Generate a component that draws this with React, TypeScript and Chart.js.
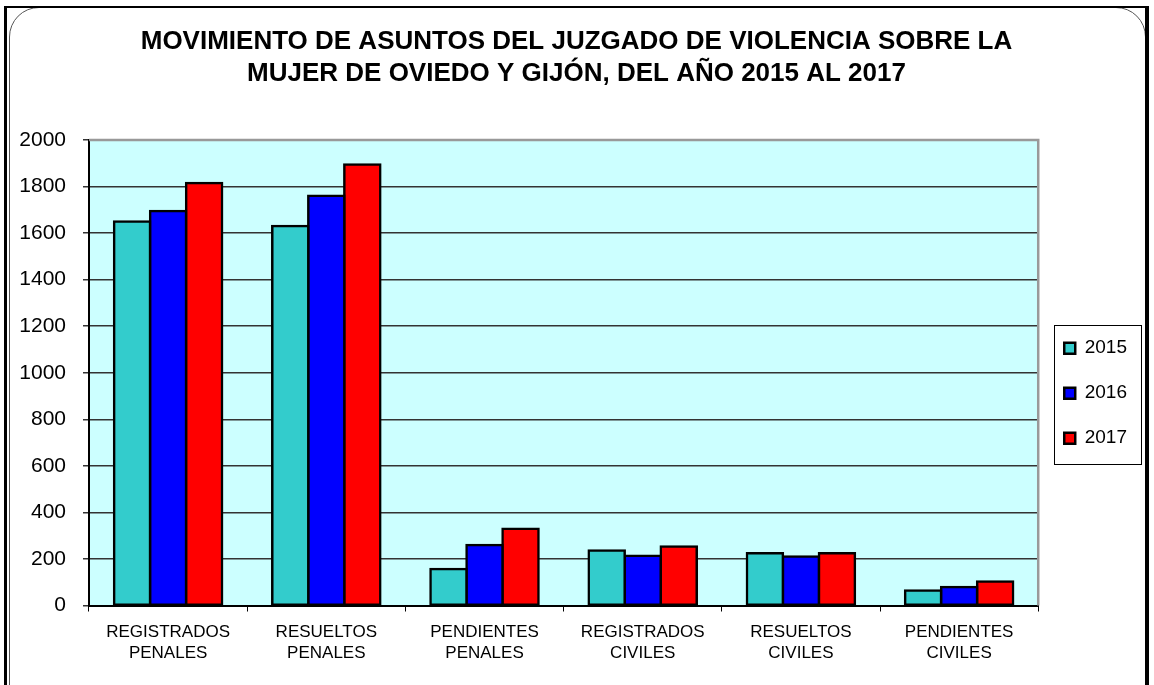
import React, { useEffect, useRef } from 'react';
import { Chart, registerables } from 'chart.js';

Chart.register(...registerables);

const categories: string[][] = [
  ['REGISTRADOS', 'PENALES'],
  ['RESUELTOS', 'PENALES'],
  ['PENDIENTES', 'PENALES'],
  ['REGISTRADOS', 'CIVILES'],
  ['RESUELTOS', 'CIVILES'],
  ['PENDIENTES', 'CIVILES'],
];
const seriesNames = ['2015', '2016', '2017'];
const values2015 = [1650, 1630, 157, 236, 224, 64];
const values2016 = [1695, 1760, 260, 214, 210, 79];
const values2017 = [1815, 1895, 330, 253, 224, 103];
const seriesColors = ['#33CCCC', '#0000FF', '#FF0000'];
const titleLines = [
  'MOVIMIENTO DE ASUNTOS DEL JUZGADO DE VIOLENCIA SOBRE LA',
  'MUJER DE OVIEDO Y GIJÓN, DEL AÑO 2015 AL 2017',
];
const yMin = 0;
const yMax = 2000;
const yStep = 200;

const FONT = '"Liberation Sans", Arial, sans-serif';

const plotBg = {
  id: 'plotBg',
  beforeDraw(chart: any) {
    const { ctx, chartArea: a } = chart;
    ctx.save();
    ctx.fillStyle = '#CCFFFF';
    ctx.fillRect(a.left, a.top, a.right - a.left, a.bottom - a.top);
    ctx.restore();
  },
  beforeDatasetsDraw(chart: any) {
    const { ctx, chartArea: a } = chart;
    ctx.save();
    ctx.strokeStyle = '#999999';
    ctx.lineWidth = 2.5;
    ctx.beginPath();
    ctx.moveTo(a.left, a.top);
    ctx.lineTo(a.right, a.top);
    ctx.lineTo(a.right, a.bottom);
    ctx.stroke();
    ctx.restore();
  },
};

const legendFrame = {
  id: 'legendFrame',
  afterDraw(chart: any) {
    const lg = chart.legend;
    if (!lg || !lg.legendHitBoxes || !lg.legendHitBoxes.length) return;
    const hb = lg.legendHitBoxes;
    const first = hb[0];
    const last = hb[hb.length - 1];
    const left = first.left - 10;
    const top = first.top - 14;
    const bottom = last.top + last.height + 16;
    const { ctx } = chart;
    ctx.save();
    ctx.strokeStyle = '#000';
    ctx.lineWidth = 1;
    ctx.strokeRect(Math.round(left) + 0.5, Math.round(top) + 0.5, 87, Math.round(bottom - top));
    ctx.restore();
  },
};

export default function App() {
  const ref = useRef<HTMLCanvasElement>(null);

  useEffect(() => {
    if (!ref.current) return;
    const datasets = [values2015, values2016, values2017].map((vals, i) => ({
      label: seriesNames[i],
      data: vals,
      backgroundColor: seriesColors[i],
      borderColor: '#000',
      borderWidth: 2.5,
      borderSkipped: false,
      inflateAmount: 1.25,
      categoryPercentage: 0.683,
      barPercentage: 1,
    }));
    const chart = new Chart(ref.current, {
      type: 'bar',
      data: { labels: categories, datasets },
      plugins: [plotBg, legendFrame],
      options: {
        responsive: false,
        animation: false,
        devicePixelRatio: 1,
        layout: { padding: { left: 16, right: 17, top: 0, bottom: 10.5 } },
        plugins: {
          tooltip: { enabled: false },
          title: {
            display: true,
            text: titleLines,
            color: '#000',
            font: { family: FONT, size: 26, weight: 'bold', lineHeight: 32 / 26 },
            padding: { top: 26, bottom: 50 },
          },
          legend: {
            display: true,
            position: 'right',
            align: 'center',
            title: { display: true, text: '', font: { size: 10, lineHeight: 1 }, padding: { top: 0, bottom: 102 } },
            labels: {
              color: '#000',
              font: { family: FONT, size: 19 },
              boxWidth: 11,
              boxHeight: 11,
              padding: 26,
            },
          },
        },
        scales: {
          x: {
            grid: {
              display: true,
              drawOnChartArea: false,
              drawTicks: true,
              tickLength: 6,
              color: '#000',
              lineWidth: 1,
            },
            border: { display: true, color: '#000', width: 2 },
            ticks: {
              color: '#000',
              font: { family: FONT, size: 17, lineHeight: 21 / 17 },
              padding: 10.5,
              maxRotation: 0,
              autoSkip: false,
            },
          },
          y: {
            min: yMin,
            max: yMax,
            afterFit: (scale: any) => {
              scale.width = 73;
            },
            grid: {
              color: '#333',
              lineWidth: 1.5,
              drawTicks: true,
              tickLength: 6,
            },
            border: { display: true, color: '#000', width: 2 },
            ticks: {
              stepSize: yStep,
              color: '#000',
              font: { family: FONT, size: 21 },
              padding: 17,
              callback: (v: any) => String(v),
            },
          },
        },
      },
    } as any);
    return () => chart.destroy();
  }, []);

  return (
    <div style={{ position: 'absolute', left: 0, top: 0, width: 1154, height: 685, overflow: 'hidden', background: '#fff' }}>
      <div
        style={{
          position: 'absolute',
          left: 9,
          top: 7,
          width: 1137,
          height: 720,
          border: '1.5px solid #555',
          borderRadius: 30,
          boxSizing: 'border-box',
        }}
      />
      <div
        style={{
          position: 'absolute',
          left: 4,
          top: 6,
          width: 1145,
          height: 720,
          borderTop: '2px solid #000',
          borderLeft: '3px solid #000',
          borderRight: '4px solid #000',
          borderBottom: '2px solid #000',
          boxSizing: 'border-box',
        }}
      />
      <canvas ref={ref} width={1154} height={685} style={{ position: 'absolute', left: 0, top: 0 }} />
    </div>
  );
}
